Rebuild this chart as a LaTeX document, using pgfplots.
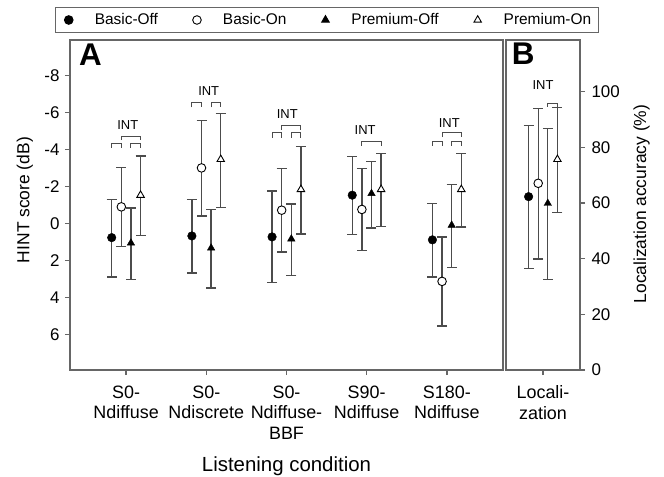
\documentclass[border=0pt]{standalone}
\usepackage{fontspec}
\setmainfont{Liberation Sans}
\usepackage{pgfplots}
\pgfplotsset{compat=1.18}
\usepackage{pgfplotstable}

% HINT score (dB): x y err+ err-
\pgfplotstableread{
x y ep em
0.82 0.76 2.12 2.07
1.82 0.67 2.00 1.98
2.82 0.72 2.47 2.47
3.82 -1.53 2.13 2.09
4.82 0.88 2.00 1.96
}\basicoff
\pgfplotstableread{
x y ep em
0.94 -0.90 2.13 2.14
1.94 -3.00 2.59 2.55
2.94 -0.72 2.25 2.25
3.94 -0.76 2.22 2.19
4.94 3.12 2.41 2.40
}\basicon
\pgfplotstableread{
x y ep em
1.06 1.05 1.98 1.88
2.06 1.32 2.16 2.09
3.06 0.83 1.97 1.89
4.06 -1.62 1.86 1.71
5.06 0.09 2.29 2.21
}\premoff
\pgfplotstableread{
x y ep em
1.18 -1.53 2.16 2.11
2.18 -3.46 2.58 2.49
3.18 -1.84 2.40 2.32
4.18 -1.84 2.00 1.94
5.18 -1.84 2.02 1.92
}\premon
% localization accuracy (%)
\pgfplotstableread{
x y ep em
-0.18 62.3 25.5 25.8
}\locbo
\pgfplotstableread{
x y ep em
-0.06 67.1 26.9 27.2
}\locbn
\pgfplotstableread{
x y ep em
0.06 59.9 26.8 27.3
}\locpo
\pgfplotstableread{
x y ep em
0.18 75.7 18.6 19.0
}\locpn

\newcommand{\brk}[4]{\draw[black!70, line width=1bp] (axis cs:#1,#4) -- (axis cs:#1,#3) -- (axis cs:#2,#3) -- (axis cs:#2,#4);}
\newcommand{\intl}[2]{\node[font=\fontsize{13}{15}\selectfont, inner sep=0pt] at (axis cs:#1,#2) {INT};}

\pgfplotsset{
  panel/.style={
    scale only axis, height=330bp,
    axis line style={black!60, line width=1.3bp},
    tick style={black!60, line width=1.3bp},
    tick align=outside, major tick length=5bp,
    xtick pos=bottom,
    tick label style={font=\fontsize{17}{20}\selectfont},
    /pgf/number format/assume math mode=true,
    clip=false,
  },
  eb/.style={only marks, mark size=4.3bp,
    error bars/y dir=both, error bars/y explicit,
    error bars/error bar style={black!70, line width=1.3bp},
    error bars/error mark options={black!70, line width=1.3bp, mark size=5bp, rotate=90}},
  bo/.style={mark=*, mark options={fill=black, draw=black}},
  bn/.style={mark=*, mark options={fill=white, draw=black, line width=0.9bp}},
  po/.style={mark=triangle*, mark options={fill=black, draw=black}},
  pn/.style={mark=triangle*, mark options={fill=white, draw=black, line width=0.9bp}},
}

\begin{document}
\begin{tikzpicture}
\useasboundingbox (-70bp,-107bp) rectangle (594bp,370bp);
\begin{axis}[panel,
  at={(0,0)}, anchor=south west, width=433bp,
  xmin=0.3, xmax=5.7, ymin=-9.9, ymax=7.9, y dir=reverse,
  ytick={-8,-6,...,6}, ytick pos=left,
  yticklabel style={xshift=-2bp},
  xtick={1,2,3,4,5},
  xticklabels={{S0-\\Ndiffuse},{S0-\\Ndiscrete},{S0-\\Ndiffuse-\\BBF},{S90-\\Ndiffuse},{S180-\\Ndiffuse}},
  xticklabel style={align=center, font=\fontsize{18}{21}\selectfont, yshift=-7bp},
  ylabel={HINT score (dB)},
  ylabel style={at={(axis description cs:-0.104,0.515)}, anchor=center, font=\fontsize{17.5}{20}\selectfont},
  xlabel={Listening condition},
  xlabel style={at={(axis description cs:0.5,-0.308)}, anchor=base, font=\fontsize{20.5}{24}\selectfont},
  legend columns=4,
  legend image code/.code={\path[draw=none, fill=none] (-8bp,0bp) rectangle (24bp,0bp); \draw[#1] plot coordinates {(0bp,0bp)};},
  legend style={at={(axis description cs:0.5935,1.0606)}, anchor=center,
    draw=black!60, line width=1bp, font=\fontsize{15.5}{18}\selectfont,
    inner xsep=5bp, inner ysep=4bp,
    nodes={inner xsep=2bp},
    /tikz/every even column/.append style={column sep=29bp}},
]
\addplot+[eb, bo] table[x=x, y=y, y error plus=ep, y error minus=em] {\basicoff};
\addlegendentry{Basic-Off}
\addplot+[eb, bn] table[x=x, y=y, y error plus=ep, y error minus=em] {\basicon};
\addlegendentry{Basic-On}
\addplot+[eb, po] table[x=x, y=y, y error plus=ep, y error minus=em] {\premoff};
\addlegendentry{Premium-Off}
\addplot+[eb, pn] table[x=x, y=y, y error plus=ep, y error minus=em] {\premon};
\addlegendentry{Premium-On}
% INT brackets
\brk{0.82}{0.94}{-4.32}{-4.08}\brk{1.06}{1.18}{-4.32}{-4.08}\brk{0.94}{1.18}{-4.71}{-4.50}\intl{1.02}{-5.3}
\brk{1.82}{1.94}{-6.53}{-6.26}\brk{2.06}{2.18}{-6.53}{-6.26}\intl{2.03}{-7.14}
\brk{2.82}{2.94}{-4.89}{-4.64}\brk{3.06}{3.18}{-4.89}{-4.64}\brk{2.94}{3.18}{-5.27}{-5.04}\intl{3.01}{-5.9}
\brk{3.94}{4.18}{-4.44}{-4.19}\intl{3.98}{-5.04}
\brk{4.82}{4.94}{-4.44}{-4.19}\brk{5.06}{5.18}{-4.44}{-4.19}\brk{4.94}{5.18}{-4.89}{-4.66}\intl{5.03}{-5.4}
\node[anchor=north west, inner sep=0pt, font=\fontsize{31.5}{36}\selectfont\bfseries] at (axis description cs:0.0208,0.988) {A};
\end{axis}
\begin{axis}[panel,
  at={(436bp,0)}, anchor=south west, width=74bp,
  xmin=-0.4625, xmax=0.4625, ymin=0, ymax=118.6,
  ytick={0,20,...,100}, ytick pos=right, yticklabel pos=right,
  yticklabel style={xshift=3bp},
  xtick={0}, xticklabels={{Locali-\\zation}},
  xticklabel style={align=center, font=\fontsize{18}{21}\selectfont, yshift=-7bp},
  ylabel={Localization accuracy (\%)},
  ylabel style={at={(axis description cs:1.834,0.503)}, anchor=center, font=\fontsize{17.5}{20}\selectfont},
]
\addplot+[eb, bo] table[x=x, y=y, y error plus=ep, y error minus=em] {\locbo};
\addplot+[eb, bn] table[x=x, y=y, y error plus=ep, y error minus=em] {\locbn};
\addplot+[eb, po] table[x=x, y=y, y error plus=ep, y error minus=em] {\locpo};
\addplot+[eb, pn] table[x=x, y=y, y error plus=ep, y error minus=em] {\locpn};
\brk{0.06}{0.18}{95.9}{94.6}\intl{0}{102.4}
\node[anchor=north west, inner sep=0pt, font=\fontsize{31.5}{36}\selectfont\bfseries] at (axis description cs:0.077,0.991) {B};
\end{axis}
\end{tikzpicture}
\end{document}
